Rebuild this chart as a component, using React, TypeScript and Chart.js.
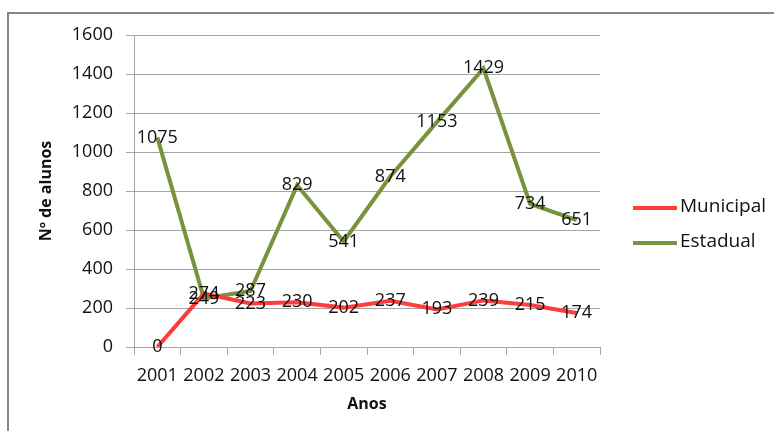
import React, { useEffect, useRef } from "react";
import { Chart, registerables } from "chart.js";

Chart.register(...registerables);

const years = ["2001", "2002", "2003", "2004", "2005", "2006", "2007", "2008", "2009", "2010"];
const municipal = [0, 274, 223, 230, 202, 237, 193, 239, 215, 174];
const estadual = [1075, 249, 287, 829, 541, 874, 1153, 1429, 734, 651];
const seriesNames = ["Municipal", "Estadual"];
const seriesColors = ["#FF3B3B", "#77933C"];
const yTitle = "Nº de alunos";
const xTitle = "Anos";

const FONT = "'Open Sans', 'DejaVu Sans', sans-serif";
const GRID = "#a6a6a6";

const labelPlugin = {
  id: "pointLabels",
  afterDatasetsDraw(chart: any) {
    const ctx = chart.ctx;
    ctx.save();
    ctx.font = `18px ${FONT}`;
    ctx.fillStyle = "#111";
    ctx.textAlign = "center";
    ctx.textBaseline = "middle";
    chart.data.datasets.forEach((ds: any, i: number) => {
      const meta = chart.getDatasetMeta(i);
      meta.data.forEach((pt: any, j: number) => {
        ctx.fillText(String(ds.data[j]), pt.x, pt.y);
      });
    });
    ctx.restore();
  },
};

const legendPlugin = {
  id: "sideLegend",
  afterDraw(chart: any) {
    const ctx = chart.ctx;
    const area = chart.chartArea;
    ctx.save();
    ctx.font = `19px ${FONT}`;
    ctx.textBaseline = "middle";
    ctx.textAlign = "left";
    chart.data.datasets.forEach((ds: any, i: number) => {
      const y = 207 + i * 35;
      const x0 = area.right + 33;
      ctx.strokeStyle = ds.borderColor;
      ctx.lineWidth = 4;
      ctx.beginPath();
      ctx.moveTo(x0, y + 1);
      ctx.lineTo(x0 + 44, y + 1);
      ctx.stroke();
      ctx.fillStyle = "#111";
      ctx.fillText(ds.label, x0 + 47, y);
    });
    ctx.restore();
  },
};

export default function App() {
  const ref = useRef<HTMLCanvasElement>(null);
  useEffect(() => {
    if (!ref.current) return;
    const chart = new Chart(ref.current, {
      type: "line",
      data: {
        labels: years,
        datasets: [
          {
            label: seriesNames[0],
            data: municipal,
            borderColor: seriesColors[0],
            backgroundColor: seriesColors[0],
            borderWidth: 4,
            pointRadius: 0,
            tension: 0,
          },
          {
            label: seriesNames[1],
            data: estadual,
            borderColor: seriesColors[1],
            backgroundColor: seriesColors[1],
            borderWidth: 4,
            pointRadius: 0,
            tension: 0,
          },
        ],
      },
      options: {
        responsive: false,
        animation: false,
        layout: { padding: { left: 0, top: 35, right: 174, bottom: 14 } },
        plugins: {
          legend: { display: false },
          tooltip: { enabled: false },
        },
        scales: {
          x: {
            offset: true,
            grid: {
              offset: true,
              drawOnChartArea: false,
              drawTicks: true,
              tickLength: 8,
              color: GRID,
            },
            border: { color: GRID },
            ticks: {
              color: "#111",
              font: { family: FONT, size: 18 },
              padding: 10,
              maxRotation: 0,
              autoSkip: false,
            },
            title: {
              display: true,
              text: xTitle,
              color: "#111",
              font: { family: FONT, size: 16, weight: "bold" },
              padding: { top: 0, bottom: 3 },
            },
            afterFit: (s: any) => {
              s.height = 70;
            },
          },
          y: {
            min: 0,
            max: 1600,
            ticks: {
              stepSize: 200,
              color: "#111",
              font: { family: FONT, size: 18 },
              padding: 13,
              callback: (v: any) => String(v),
            },
            grid: { color: GRID, tickLength: 8 },
            border: { color: GRID },
            title: {
              display: true,
              text: yTitle,
              color: "#111",
              font: { family: FONT, size: 16, weight: "bold" },
              padding: { top: 37, bottom: 0 },
            },
            afterFit: (s: any) => {
              s.width = 134;
            },
          },
        },
      },
      plugins: [labelPlugin, legendPlugin],
    });
    return () => chart.destroy();
  }, []);
  return (
    <div style={{ position: "fixed", left: 0, top: 0, width: 774, height: 431, background: "#fff" }}>
      <div
        style={{
          position: "absolute",
          left: 7,
          top: 12,
          width: 767,
          height: 419,
          borderTop: "2px solid #868686",
          borderLeft: "2px solid #868686",
          boxSizing: "border-box",
        }}
      />
      <canvas ref={ref} width={774} height={431} style={{ position: "absolute", left: 0, top: 0 }} />
    </div>
  );
}
